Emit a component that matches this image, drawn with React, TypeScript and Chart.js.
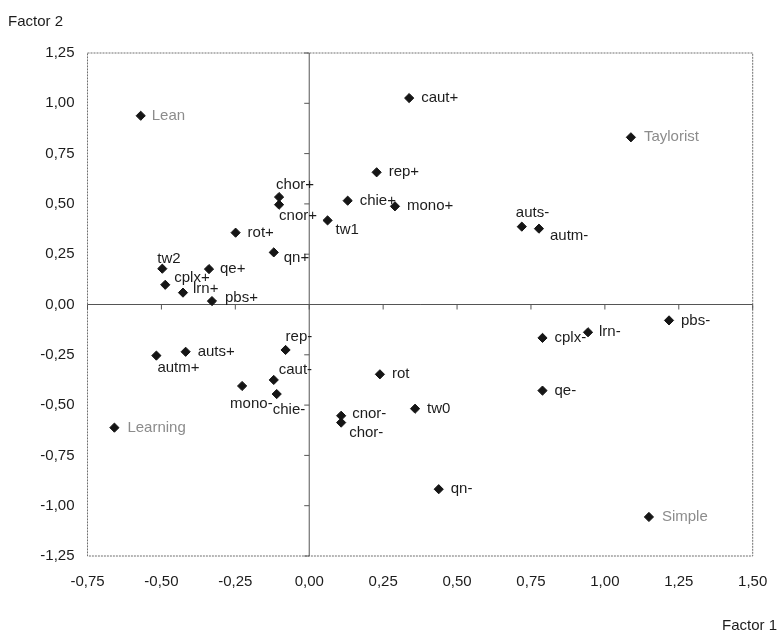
import React, { useEffect, useRef } from "react";
import { Chart, registerables } from "chart.js";

Chart.register(...registerables);

// ---- data ----
const pointNames: string[] = [
  "Lean", "caut+", "Taylorist", "rep+", "chor+", "cnor+", "tw1", "chie+", "mono+",
  "auts-", "autm-", "rot+", "qn+", "tw2", "qe+", "cplx+", "lrn+", "pbs+",
  "rep-", "auts+", "autm+", "caut-", "mono-", "chie-", "Learning",
  "cplx-", "lrn-", "rot", "qe-", "tw0", "cnor-", "chor-", "qn-", "pbs-", "Simple",
];
const factor1: number[] = [
  -0.570, 0.338, 1.088, 0.228, -0.102, -0.102, 0.062, 0.130, 0.290,
  0.719, 0.777, -0.249, -0.120, -0.497, -0.339, -0.487, -0.427, -0.329,
  -0.080, -0.418, -0.517, -0.120, -0.227, -0.110, -0.659,
  0.789, 0.943, 0.239, 0.789, 0.358, 0.108, 0.108, 0.438, 1.217, 1.149,
];
const factor2: number[] = [
  0.938, 1.026, 0.831, 0.657, 0.534, 0.496, 0.418, 0.516, 0.488,
  0.387, 0.377, 0.357, 0.259, 0.178, 0.176, 0.098, 0.059, 0.017,
  -0.226, -0.235, -0.254, -0.375, -0.405, -0.445, -0.612,
  -0.166, -0.138, -0.347, -0.428, -0.518, -0.553, -0.587, -0.918, -0.079, -1.056,
];
const referenceTypes: string[] = ["Lean", "Taylorist", "Learning", "Simple"];
const xTickValues: number[] = [-0.75, -0.5, -0.25, 0, 0.25, 0.5, 0.75, 1.0, 1.25, 1.5];
const yTickValues: number[] = [-1.25, -1.0, -0.75, -0.5, -0.25, 0, 0.25, 0.5, 0.75, 1.0, 1.25];
const xAxisTitle = "Factor 1";
const yAxisTitle = "Factor 2";

// label placement (pixel offsets of text left edge / vertical centre from the marker)
const labelOffsets: Record<string, [number, number]> = {
  "Lean": [11, 0], "caut+": [12, 0], "Taylorist": [13, 0], "rep+": [12, 0],
  "chor+": [-3, -12], "cnor+": [0, 11], "tw1": [8, 9], "chie+": [12, 0],
  "mono+": [12, 0], "auts-": [-6, -14], "autm-": [11, 7], "rot+": [12, 0],
  "qn+": [10, 5], "tw2": [-5, -10], "qe+": [11, 0], "cplx+": [9, -7],
  "lrn+": [10, -4], "pbs+": [13, -3], "rep-": [0, -13], "auts+": [12, 0],
  "autm+": [1, 12], "caut-": [5, -10], "mono-": [-12, 18], "chie-": [-4, 16],
  "Learning": [13, 0], "cplx-": [12, 0], "lrn-": [11, 0], "rot": [12, 0],
  "qe-": [12, 0], "tw0": [12, 0], "cnor-": [11, -2], "chor-": [8, 10],
  "qn-": [12, 0], "pbs-": [12, 0], "Simple": [13, 0],
};

const FONT = '"Liberation Sans", Arial, sans-serif';
const fmt = (v: number) => v.toFixed(2).replace(".", ",");

const framePlugin = {
  id: "frameAndLabels",
  beforeDatasetsDraw(chart: any) {
    const { ctx, chartArea, scales } = chart;
    const xs = scales.x, ys = scales.y;
    ctx.save();
    // frame
    ctx.strokeStyle = "#6f6f6f";
    ctx.lineWidth = 1;
    ctx.setLineDash([2, 1]);
    ctx.strokeRect(chartArea.left, chartArea.top, chartArea.right - chartArea.left, chartArea.bottom - chartArea.top);
    ctx.setLineDash([]);
    // zero lines
    const x0 = xs.getPixelForValue(0);
    const y0 = ys.getPixelForValue(0);
    ctx.strokeStyle = "#555";
    ctx.beginPath();
    ctx.moveTo(x0, chartArea.top);
    ctx.lineTo(x0, chartArea.bottom);
    ctx.moveTo(chartArea.left, y0);
    ctx.lineTo(chartArea.right, y0);
    // tick marks on zero lines
    xTickValues.forEach((v) => {
      const px = xs.getPixelForValue(v);
      ctx.moveTo(px, y0);
      ctx.lineTo(px, y0 + 5);
    });
    yTickValues.forEach((v) => {
      const py = ys.getPixelForValue(v);
      ctx.moveTo(x0 - 5, py);
      ctx.lineTo(x0, py);
    });
    ctx.stroke();
    ctx.restore();
  },
  afterDatasetsDraw(chart: any) {
    const { ctx } = chart;
    const meta = chart.getDatasetMeta(0);
    ctx.save();
    ctx.font = `15px ${FONT}`;
    ctx.textAlign = "left";
    ctx.textBaseline = "middle";
    meta.data.forEach((el: any, i: number) => {
      const name = pointNames[i];
      const off = labelOffsets[name] || [12, 0];
      ctx.fillStyle = referenceTypes.includes(name) ? "#8c8c8c" : "#1c1c1c";
      ctx.fillText(name, el.x + off[0], el.y + off[1]);
    });
    // axis titles
    ctx.fillStyle = "#1c1c1c";
    ctx.textAlign = "left";
    ctx.fillText(yAxisTitle, 8, 22);
    ctx.textAlign = "right";
    ctx.fillText(xAxisTitle, 777, 626);
    ctx.restore();
  },
};

export default function App() {
  const canvasRef = useRef<HTMLCanvasElement | null>(null);

  useEffect(() => {
    if (!canvasRef.current) return;
    const chart = new Chart(canvasRef.current, {
      type: "scatter",
      data: {
        datasets: [
          {
            label: "points",
            data: factor1.map((x, i) => ({ x, y: factor2[i] })),
            pointStyle: "rectRot",
            pointRadius: 4.6,
            pointBorderWidth: 1,
            backgroundColor: "#151515",
            borderColor: "#151515",
          },
        ],
      },
      options: {
        animation: false,
        responsive: false,
        devicePixelRatio: 1,
        layout: { padding: { left: 0, top: 53, right: 27.3, bottom: 0 } },
        plugins: {
          legend: { display: false },
          tooltip: { enabled: false },
        },
        scales: {
          x: {
            type: "linear",
            min: -0.75,
            max: 1.5,
            afterBuildTicks: (scale: any) => {
              scale.ticks = xTickValues.map((value) => ({ value }));
            },
            afterFit: (scale: any) => {
              scale.height = 79;
              scale.paddingLeft = 0;
              scale.paddingRight = 0;
            },
            grid: { display: false, drawTicks: false },
            border: { display: false },
            ticks: {
              padding: 17,
              color: "#1c1c1c",
              font: { family: FONT, size: 15 },
              maxRotation: 0,
              autoSkip: false,
              callback: (v: any) => fmt(Number(v)),
            },
          },
          y: {
            type: "linear",
            min: -1.25,
            max: 1.25,
            afterBuildTicks: (scale: any) => {
              scale.ticks = yTickValues.map((value) => ({ value }));
            },
            afterFit: (scale: any) => {
              scale.width = 87.5;
              scale.paddingTop = 0;
              scale.paddingBottom = 0;
            },
            grid: { display: false, drawTicks: false },
            border: { display: false },
            ticks: {
              padding: 13,
              color: "#1c1c1c",
              font: { family: FONT, size: 15 },
              autoSkip: false,
              callback: (v: any) => fmt(Number(v)),
            },
          },
        },
      } as any,
      plugins: [framePlugin],
    });
    return () => chart.destroy();
  }, []);

  return (
    <div style={{ position: "absolute", left: 0, top: 0, width: 780, height: 635, background: "#fff" }}>
      <canvas ref={canvasRef} width={780} height={635} style={{ display: "block" }} />
    </div>
  );
}
